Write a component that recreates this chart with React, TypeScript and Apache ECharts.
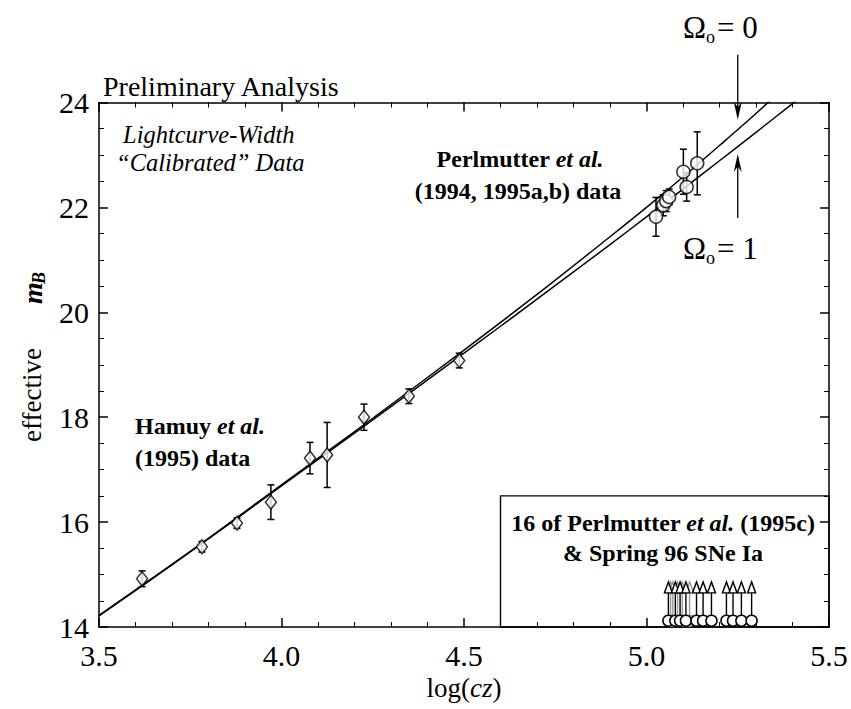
import React, { useEffect, useRef } from "react";
import * as echarts from "echarts";

const SERIF = "'Liberation Serif', 'DejaVu Serif', serif";

// x-axis tick values (log cz) and y-axis tick values (effective m_B)
const xTickValues = [3.5, 4.0, 4.5, 5.0, 5.5];
const yTickValues = [14, 16, 18, 20, 22, 24];

// Hamuy et al. (1995) data
const hamuyLogCz = [3.618, 3.782, 3.878, 3.971, 4.078, 4.125, 4.226, 4.349, 4.487];
const hamuyMag = [14.92, 15.53, 15.98, 16.38, 17.22, 17.28, 18.0, 18.4, 19.08];
const hamuyErr = [0.15, 0.1, 0.1, 0.33, 0.3, 0.62, 0.25, 0.14, 0.14];

// Perlmutter et al. (1994, 1995a,b) data
const perlLogCz = [5.026, 5.046, 5.054, 5.062, 5.101, 5.11, 5.139];
const perlMag = [21.82, 22.04, 22.12, 22.2, 22.68, 22.39, 22.84];
const perlErr = [0.37, 0.2, 0.2, 0.15, 0.43, 0.27, 0.6];

// model curves
const curveLogCz = [3.5, 3.75, 4.0, 4.25, 4.5, 4.7, 4.9, 5.0, 5.1, 5.2, 5.3, 5.4, 5.5];
const omega0Mag = [14.22, 15.44, 16.71, 17.98, 19.28, 20.34, 21.44, 22.0, 22.58, 23.18, 23.79, 24.43, 25.09];
const omega1Mag = [14.21, 15.43, 16.69, 17.95, 19.22, 20.25, 21.29, 21.82, 22.35, 22.89, 23.43, 23.98, 24.53];

// 16 of Perlmutter et al. (1995c) & Spring 96 SNe Ia (inset markers)
const insetLogCz = [5.06, 5.079, 5.092, 5.108, 5.137, 5.155, 5.178, 5.219, 5.237, 5.26, 5.288];
const insetGreyLogCz = [5.066, 5.072, 5.085, 5.098, 5.118];
const insetBaseMag = 14.12;
const insetTipMag = 14.86;
const insetBox = [4.6, 5.5, 14, 16.5]; // xmin, xmax, ymin, ymax

// Omega arrows
const omegaArrowLogCz = 5.25;
const omega0Arrow = [24.91, 23.67]; // start, tip
const omega1Arrow = [21.8, 23.02];

const black = "#000";

function errorBarRender(params: any, api: any) {
  const x = api.value(0);
  const lo = api.coord([x, api.value(1)]);
  const hi = api.coord([x, api.value(2)]);
  const w = 3.5;
  const st = { stroke: black, lineWidth: 1.5 };
  return {
    type: "group",
    children: [
      { type: "line", shape: { x1: lo[0], y1: lo[1], x2: hi[0], y2: hi[1] }, style: st },
      { type: "line", shape: { x1: lo[0] - w, y1: lo[1], x2: lo[0] + w, y2: lo[1] }, style: st },
      { type: "line", shape: { x1: hi[0] - w, y1: hi[1], x2: hi[0] + w, y2: hi[1] }, style: st },
    ],
  };
}

function insetRender(color: string) {
  return (params: any, api: any) => {
    const x = api.value(0);
    const b = api.coord([x, api.value(1)]);
    const t = api.coord([x, api.value(2)]);
    const r = 5.5;
    const hh = 11;
    const hw = 4;
    return {
      type: "group",
      children: [
        { type: "line", shape: { x1: b[0], y1: b[1] - r, x2: t[0], y2: t[1] + hh }, style: { stroke: color, lineWidth: 1.4 } },
        {
          type: "polygon",
          shape: { points: [[t[0], t[1]], [t[0] - hw, t[1] + hh], [t[0] + hw, t[1] + hh]] },
          style: { fill: "#fff", stroke: color, lineWidth: 1.4 },
        },
        { type: "circle", shape: { cx: b[0], cy: b[1], r }, style: { fill: "#fff", stroke: color, lineWidth: 1.5 } },
      ],
    };
  };
}

export default function App() {
  const ref = useRef<HTMLDivElement>(null);
  useEffect(() => {
    if (!ref.current) return;
    const chart = echarts.init(ref.current, null, { renderer: "svg" });

    const axisCommon: any = {
      type: "value",
      axisLine: { show: true, onZero: false, lineStyle: { color: black, width: 1.5 } },
      axisTick: { show: true, inside: true, length: 9, lineStyle: { color: black, width: 1.5 } },
      splitLine: { show: false },
      minorSplitLine: { show: false },
    };

    const option: any = {
      animation: false,
      backgroundColor: "#fff",
      grid: { left: 99, right: 22, top: 102.5, bottom: 82, containLabel: false },
      xAxis: [
        {
          ...axisCommon,
          min: xTickValues[0],
          max: xTickValues[xTickValues.length - 1],
          interval: 0.5,
          position: "bottom",
          minorTick: { show: true, splitNumber: 5, length: 5, lineStyle: { color: black, width: 1 } },
          axisLabel: {
            color: black,
            fontSize: 30,
            fontFamily: SERIF,
            margin: 13,
            formatter: (v: number) => v.toFixed(1),
          },
        },
        {
          ...axisCommon,
          min: xTickValues[0],
          max: xTickValues[xTickValues.length - 1],
          interval: 0.5,
          position: "top",
          minorTick: { show: true, splitNumber: 5, length: 5, lineStyle: { color: black, width: 1 } },
          axisLabel: { show: false },
        },
      ],
      yAxis: [
        {
          ...axisCommon,
          min: yTickValues[0],
          max: yTickValues[yTickValues.length - 1],
          interval: 2,
          position: "left",
          minorTick: { show: true, splitNumber: 4, length: 5, lineStyle: { color: black, width: 1 } },
          axisLabel: { color: black, fontSize: 30, fontFamily: SERIF, margin: 10 },
        },
        {
          ...axisCommon,
          min: yTickValues[0],
          max: yTickValues[yTickValues.length - 1],
          interval: 2,
          position: "right",
          minorTick: { show: true, splitNumber: 4, length: 5, lineStyle: { color: black, width: 1 } },
          axisLabel: { show: false },
        },
      ],
      series: [
        {
          name: "Omega0=0",
          type: "line",
          data: curveLogCz.map((x, i) => [x, omega0Mag[i]]),
          symbol: "none",
          smooth: 0.3,
          clip: true,
          lineStyle: { color: black, width: 1.5 },
          z: 2,
          markArea: {
            silent: true,
            itemStyle: { color: "rgba(0,0,0,0)", borderColor: black, borderWidth: 1.4 },
            data: [[{ coord: [insetBox[0], insetBox[3]] }, { coord: [insetBox[1], insetBox[2]] }]],
          },
        },
        {
          name: "Omega0=1",
          type: "line",
          data: curveLogCz.map((x, i) => [x, omega1Mag[i]]),
          symbol: "none",
          smooth: 0.3,
          clip: true,
          lineStyle: { color: black, width: 1.5 },
          z: 2,
        },
        {
          name: "Hamuy err",
          type: "custom",
          data: hamuyLogCz.map((x, i) => [x, hamuyMag[i] - hamuyErr[i], hamuyMag[i] + hamuyErr[i]]),
          renderItem: errorBarRender,
          encode: { x: 0, y: [1, 2] },
          z: 3,
        },
        {
          name: "Perlmutter err",
          type: "custom",
          data: perlLogCz.map((x, i) => [x, perlMag[i] - perlErr[i], perlMag[i] + perlErr[i]]),
          renderItem: errorBarRender,
          encode: { x: 0, y: [1, 2] },
          z: 3,
        },
        {
          name: "Hamuy",
          type: "scatter",
          data: hamuyLogCz.map((x, i) => [x, hamuyMag[i]]),
          symbol: "diamond",
          symbolSize: [11, 14],
          itemStyle: { color: "#fff", borderColor: black, borderWidth: 1.5 },
          z: 4,
        },
        {
          name: "Perlmutter",
          type: "scatter",
          data: perlLogCz.map((x, i) => [x, perlMag[i]]),
          symbol: "circle",
          symbolSize: 13,
          itemStyle: { color: "#fff", borderColor: black, borderWidth: 1.5 },
          z: 4,
        },
        {
          name: "Inset grey",
          type: "custom",
          data: insetGreyLogCz.map((x) => [x, insetBaseMag, insetTipMag]),
          renderItem: insetRender("#9a9a9a"),
          encode: { x: 0, y: [1, 2] },
          z: 3,
        },
        {
          name: "Inset",
          type: "custom",
          data: insetLogCz.map((x) => [x, insetBaseMag, insetTipMag]),
          renderItem: insetRender(black),
          encode: { x: 0, y: [1, 2] },
          z: 4,
        },
      ],
    };
    chart.setOption(option);

    const px = (x: number, y: number) => chart.convertToPixel({ xAxisIndex: 0, yAxisIndex: 0 }, [x, y]) as number[];
    const a0s = px(omegaArrowLogCz, omega0Arrow[0]);
    const a0t = px(omegaArrowLogCz, omega0Arrow[1]);
    const a1s = px(omegaArrowLogCz, omega1Arrow[0]);
    const a1t = px(omegaArrowLogCz, omega1Arrow[1]);
    const head = 18;
    const hw = 4;

    const t = (text: string, x: number, y: number, extra: any = {}) => ({
      type: "text",
      x,
      y,
      z: 10,
      style: {
        text,
        fill: black,
        fontFamily: SERIF,
        fontSize: 24,
        textAlign: "left",
        textVerticalAlign: "middle",
        ...extra,
      },
    });

    const richB = {
      b: { fontFamily: SERIF, fontSize: 24, fontWeight: "bold", fill: black, color: black },
      bi: { fontFamily: SERIF, fontSize: 24, fontWeight: "bold", fontStyle: "italic", fill: black, color: black },
    };

    const graphic: any[] = [
      t("Preliminary Analysis", 103, 86, { fontSize: 28 }),
      t("Lightcurve-Width", 123, 134, { fontStyle: "italic", fontSize: 24.5 }),
      t("\u201CCalibrated\u201D Data", 116, 162, { fontStyle: "italic", fontSize: 24.5 }),
      {
        type: "text",
        x: 520,
        y: 159,
        z: 10,
        style: { text: "{b|Perlmutter }{bi|et al.}", textAlign: "center", textVerticalAlign: "middle", rich: richB },
      },
      t("(1994, 1995a,b) data", 518, 191, { fontWeight: "bold", textAlign: "center" }),
      {
        type: "text",
        x: 135,
        y: 426,
        z: 10,
        style: { text: "{b|Hamuy }{bi|et al.}", textAlign: "left", textVerticalAlign: "middle", rich: richB },
      },
      t("(1995) data", 135, 458, { fontWeight: "bold" }),
      {
        type: "text",
        x: 663,
        y: 523,
        z: 10,
        style: {
          text: "{b|16 of Perlmutter }{bi|et al.}{b| (1995c)}",
          textAlign: "center",
          textVerticalAlign: "middle",
          rich: richB,
        },
      },
      t("& Spring 96 SNe Ia", 663, 553, { fontWeight: "bold", textAlign: "center" }),
      // Omega labels
      t("\u03A9", 683, 27, { fontSize: 31 }),
      t("o", 706, 37, { fontSize: 18 }),
      t("= 0", 717, 27, { fontSize: 31 }),
      t("\u03A9", 683, 248, { fontSize: 31 }),
      t("o", 706, 258, { fontSize: 18 }),
      t("= 1", 717, 248, { fontSize: 31 }),
      // y axis title (reads bottom to top)
      {
        type: "group",
        x: 32,
        y: 395,
        rotation: Math.PI / 2,
        z: 10,
        children: [
          t("effective", 0, 0, { fontSize: 27, textAlign: "center" }),
          t("m", 91, 0, { fontSize: 28, fontWeight: "bold", fontStyle: "italic", textAlign: "left" }),
          t("B", 111, 7, { fontSize: 18, fontWeight: "bold", fontStyle: "italic", textAlign: "left" }),
        ],
      },
      {
        type: "text",
        x: 464,
        y: 688,
        z: 10,
        style: {
          text: "{r|log(}{i|cz}{r|)}",
          textAlign: "center",
          textVerticalAlign: "middle",
          rich: {
            r: { fontFamily: SERIF, fontSize: 27, fill: black, color: black },
            i: { fontFamily: SERIF, fontSize: 27, fontStyle: "italic", fill: black, color: black },
          },
        },
      },
      // Omega arrows
      {
        type: "line",
        z: 10,
        shape: { x1: a0s[0], y1: a0s[1], x2: a0t[0], y2: a0t[1] - head * 0.6 },
        style: { stroke: black, lineWidth: 1.3 },
      },
      {
        type: "polygon",
        z: 10,
        shape: { points: [[a0t[0], a0t[1]], [a0t[0] - hw, a0t[1] - head], [a0t[0], a0t[1] - head * 0.7], [a0t[0] + hw, a0t[1] - head]] },
        style: { fill: black },
      },
      {
        type: "line",
        z: 10,
        shape: { x1: a1s[0], y1: a1s[1], x2: a1t[0], y2: a1t[1] + head * 0.6 },
        style: { stroke: black, lineWidth: 1.3 },
      },
      {
        type: "polygon",
        z: 10,
        shape: { points: [[a1t[0], a1t[1]], [a1t[0] - hw, a1t[1] + head], [a1t[0], a1t[1] + head * 0.7], [a1t[0] + hw, a1t[1] + head]] },
        style: { fill: black },
      },
    ];
    chart.setOption({ graphic });

    return () => chart.dispose();
  }, []);

  return <div ref={ref} style={{ position: "absolute", left: 0, top: 0, width: 851, height: 709 }} />;
}
